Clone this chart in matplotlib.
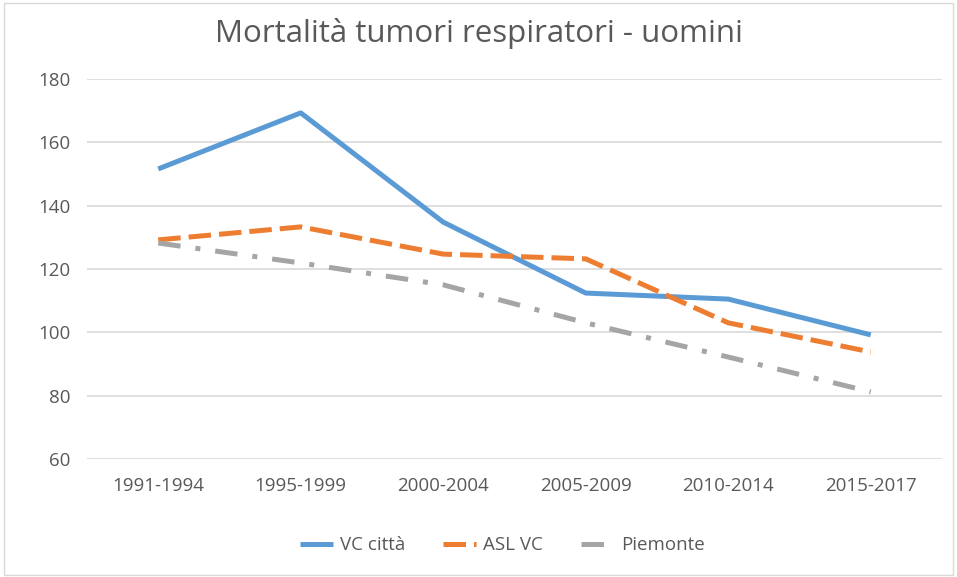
import matplotlib
matplotlib.use("Agg")
import matplotlib.pyplot as plt
import numpy as np

periodi = ["1991-1994", "1995-1999", "2000-2004", "2005-2009", "2010-2014", "2015-2017"]
vc_citta = [151.6, 169.3, 134.8, 112.4, 110.5, 99.2]
asl_vc = [129.2, 133.3, 124.7, 123.2, 103.0, 93.8]
piemonte = [128.2, 121.9, 115.0, 103.0, 92.2, 81.2]

plt.rcParams['font.family'] = ['Open Sans', 'DejaVu Sans']

fig = plt.figure(figsize=(9.57, 5.77), dpi=100)
ax = fig.add_axes([0.0909, 0.2045, 0.8934, 0.6586])

x = np.arange(len(periodi))
ax.plot(x, vc_citta, color='#5B9BD5', lw=3.6, solid_capstyle='butt', label='VC città')
ax.plot(x, asl_vc, color='#ED7D31', lw=3.6, linestyle=(0, (4.5, 1.6)), dash_capstyle='butt', label='ASL VC')
ax.plot(x, piemonte, color='#A5A5A5', lw=3.6, linestyle=(0, (4.5, 3, 1, 3)), dash_capstyle='butt', label='Piemonte')

ax.set_xlim(-0.5, len(periodi) - 0.5)
ax.set_ylim(60, 180)
ax.set_yticks(range(60, 181, 20))
ax.set_xticks(x)
ax.set_xticklabels(periodi)
ax.grid(axis='y', color='#D9D9D9', lw=1.2)
ax.set_axisbelow(True)
for s in ax.spines.values():
    s.set_visible(False)
ax.tick_params(length=0, labelsize=13.5, labelcolor='#595959')
ax.tick_params(axis='y', pad=12)
ax.tick_params(axis='x', pad=13)

fig.text(0.5, 0.942, "Mortalità tumori respiratori - uomini", ha='center', va='center',
         fontsize=22.5, color='#595959')

leg = fig.legend(loc='center', bbox_to_anchor=(0.525, 0.055), ncol=3, frameon=False,
                 fontsize=13.5, handlelength=1.75, columnspacing=2.0, handletextpad=0.4)
for t in leg.get_texts():
    t.set_color('#595959')

fig.patches.append(plt.Rectangle((0.004, 0.004), 0.992, 0.99, transform=fig.transFigure,
                                 fill=False, edgecolor='#D9D9D9', lw=1))

fig.savefig('out.png', dpi=100)
